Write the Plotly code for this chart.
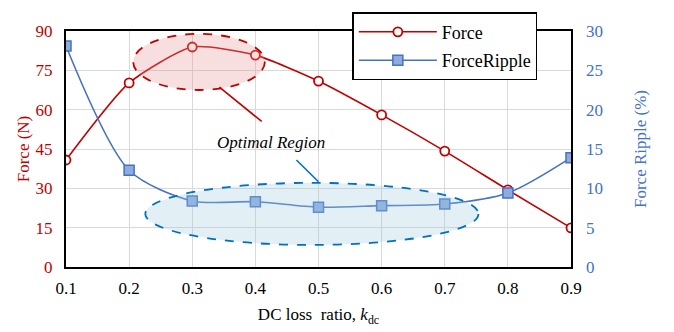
import plotly.graph_objects as go

k_dc = [0.1, 0.2, 0.3, 0.4, 0.5, 0.6, 0.7, 0.8, 0.9]
force = [40.8, 70.2, 83.9, 80.8, 70.9, 58.0, 44.2, 29.4, 14.9]
ripple = [28.1, 12.3, 8.4, 8.3, 7.6, 7.8, 8.0, 9.4, 13.9]
force_ticks = [0, 15, 30, 45, 60, 75, 90]
ripple_ticks = [0, 5, 10, 15, 20, 25, 30]

RED = "#C00000"
BLUE = "#4472C4"
FONT = "Liberation Serif"

fig = go.Figure()
fig.add_trace(go.Scatter(
    x=k_dc, y=force, name="Force", mode="lines+markers", legendgroup="a",
    line=dict(color=RED, width=1.6, shape="spline", smoothing=0.6),
    marker=dict(symbol="circle", size=9, color="white", line=dict(color=RED, width=1.8)),
    yaxis="y",
))
fig.add_trace(go.Scatter(
    x=k_dc, y=ripple, name="ForceRipple", mode="lines+markers", legendgroup="b",
    line=dict(color=BLUE, width=1.6, shape="spline", smoothing=0.8),
    marker=dict(symbol="square", size=10, color="#8FAADC", line=dict(color=BLUE, width=1.5)),
    yaxis="y2",
))

# Optimal region ellipses
fig.add_shape(type="circle", xref="x", yref="y", x0=0.2065, x1=0.415, y0=67.5, y1=88.9,
              line=dict(color=RED, width=1.8, dash="dash"), fillcolor="rgba(230,150,150,0.3)", layer="above")
fig.add_shape(type="circle", xref="x", yref="y2", x0=0.2256, x1=0.7534, y0=2.8, y1=10.7,
              line=dict(color="#0070C0", width=1.8, dash="dash"), fillcolor="rgba(160,205,225,0.3)", layer="above")
fig.add_shape(type="line", xref="x", yref="y", x0=0.343, y0=68.6, x1=0.41, y1=55.5,
              line=dict(color=RED, width=1.6))
fig.add_shape(type="line", xref="x", yref="y", x0=0.465, y0=40.8, x1=0.50, y1=32.5,
              line=dict(color="#0070C0", width=1.6))

fig.add_annotation(x=0.425, y=47.5, xref="x", yref="y", text="<i>Optimal Region</i>",
                   showarrow=False, font=dict(family=FONT, size=17, color="black"))

axis_common = dict(linecolor="black", linewidth=2, mirror=True, showline=True,
                   gridcolor="#D9D9D9", gridwidth=1.3, zeroline=False, ticks="", automargin=False)

fig.update_layout(
    width=674, height=332,
    margin=dict(l=66, r=103, t=31, b=65),
    paper_bgcolor="white", plot_bgcolor="white",
    font=dict(family=FONT, size=16, color="black"),
    xaxis=dict(range=[0.1, 0.9], tickvals=k_dc, ticktext=[f"{v:.1f}" for v in k_dc],
               ticklabelstandoff=5,
               title=dict(text="DC loss  ratio, <i>k</i><sub>dc</sub>", standoff=11,
                          font=dict(family=FONT, size=17)),
               tickfont=dict(family=FONT, size=17), **axis_common),
    yaxis=dict(range=[0, 90], tickvals=force_ticks, tickfont=dict(color=RED, size=17, family=FONT),
               ticklabelstandoff=8,
               title=dict(text="Force (N)", font=dict(color=RED, size=17, family=FONT), standoff=2),
               **axis_common),
    yaxis2=dict(range=[0, 30], tickvals=ripple_ticks, overlaying="y", side="right",
                showgrid=False, zeroline=False, showline=False, ticklabelstandoff=14, automargin=False,
                tickfont=dict(color=BLUE, size=17, family=FONT),
                title=dict(text="Force Ripple (%)", font=dict(color=BLUE, size=17, family=FONT), standoff=32)),
    legend=dict(x=0.567, y=1.08, xanchor="left", yanchor="top", bgcolor="white",
                bordercolor="black", borderwidth=1.5, font=dict(family=FONT, size=18),
                itemwidth=78, tracegroupgap=2),
    showlegend=True,
)

fig.write_html("out.html")
